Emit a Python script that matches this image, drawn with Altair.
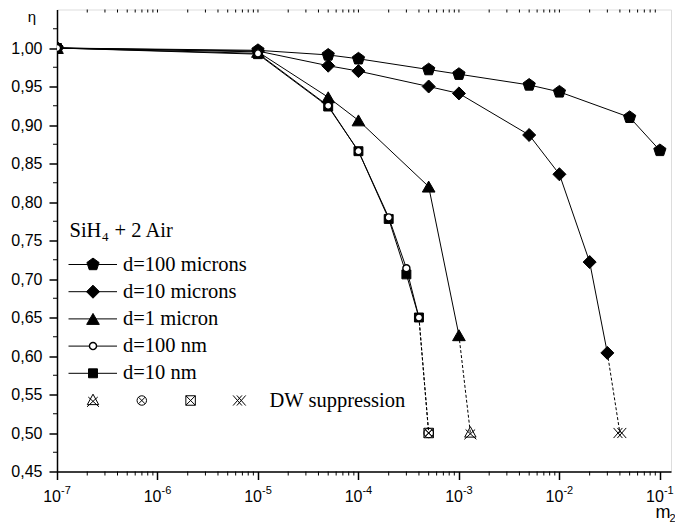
import altair as alt
import pandas as pd

# ---------------- data ----------------
series_labels = ["d=100 microns", "d=10 microns", "d=1 micron", "d=100 nm", "d=10 nm"]

x_100um = [1e-7, 1e-5, 5e-5, 1e-4, 5e-4, 1e-3, 5e-3, 1e-2, 5e-2, 1e-1]
eta_100um = [1.000, 0.997, 0.991, 0.986, 0.972, 0.966, 0.952, 0.943, 0.910, 0.867]

x_10um = [1e-7, 1e-5, 5e-5, 1e-4, 5e-4, 1e-3, 5e-3, 1e-2, 2e-2, 3e-2]
eta_10um = [1.000, 0.996, 0.977, 0.970, 0.950, 0.941, 0.887, 0.836, 0.722, 0.604]

x_1um = [1e-7, 1e-5, 5e-5, 1e-4, 5e-4, 1e-3]
eta_1um = [1.000, 0.995, 0.936, 0.906, 0.820, 0.627]

x_100nm = [1e-7, 1e-5, 5e-5, 1e-4, 2e-4, 3e-4, 4e-4]
eta_100nm = [1.000, 0.993, 0.925, 0.866, 0.780, 0.714, 0.650]

x_10nm = [1e-7, 1e-5, 5e-5, 1e-4, 2e-4, 3e-4, 4e-4]
eta_10nm = [1.000, 0.992, 0.924, 0.866, 0.778, 0.706, 0.650]

# DW suppression points (series order: 10 microns, 1 micron, 100 nm, 10 nm)
dw_series = ["d=10 microns", "d=1 micron", "d=100 nm", "d=10 nm"]
dw_x = [4e-2, 1.3e-3, 5e-4, 5e-4]
dw_eta = [0.50, 0.50, 0.50, 0.50]

x_major = [1e-7, 1e-6, 1e-5, 1e-4, 1e-3, 1e-2, 1e-1]
x_tick_base = ["10", "10", "10", "10", "10", "10", "10"]
x_tick_exp = ["-7", "-6", "-5", "-4", "-3", "-2", "-1"]
y_major = [0.45, 0.50, 0.55, 0.60, 0.65, 0.70, 0.75, 0.80, 0.85, 0.90, 0.95, 1.00]
y_minor = [0.475, 0.525, 0.575, 0.625, 0.675, 0.725, 0.775, 0.825, 0.875, 0.925, 0.975, 1.025]
x_minor = [m * 10.0 ** k for k in range(-7, -1) for m in range(2, 10)]

legend_title = ["SiH", "4", "+ 2 Air"]
dw_legend_label = "DW suppression"

# ---------------- styling ----------------
SANS = "Liberation Sans"
SERIF = "Liberation Serif"
W, H = 614, 462

PENT = "M0,-1L0.951,-0.309L0.588,0.809L-0.588,0.809L-0.951,-0.309Z"
DW_TRI = "M0,-1L0.9,0.65L-0.9,0.65Z M-0.75,-0.55L0.95,1 M0.75,-0.55L-0.95,1"
DW_CIRC = ("M0.75,0A0.75,0.75 0 1,1 -0.75,0A0.75,0.75 0 1,1 0.75,0Z "
           "M-0.53,-0.53L0.53,0.53 M0.53,-0.53L-0.53,0.53")
DW_SQ = "M-0.75,-0.75L0.75,-0.75L0.75,0.75L-0.75,0.75Z M-0.75,-0.75L0.75,0.75 M0.75,-0.75L-0.75,0.75"
DW_HATCH = "M-1,-0.8L0.4,0.8 M-1,0.8L0.4,-0.8 M-0.4,-0.8L1,0.8 M-0.4,0.8L1,-0.8"

series_x = [x_100um, x_10um, x_1um, x_100nm, x_10nm]
series_eta = [eta_100um, eta_10um, eta_1um, eta_100nm, eta_10nm]
series_shape = [PENT, "diamond", "triangle-up", "circle", "square"]
series_size = [165, 170, 160, 50, 80]
series_fill = ["black", "black", "black", "white", "black"]
series_sw = [1, 1, 1, 1.4, 1]
dw_shape = {"d=10 microns": DW_HATCH, "d=1 micron": DW_TRI, "d=100 nm": DW_CIRC, "d=10 nm": DW_SQ}

xscale = alt.Scale(type="log", domain=[1e-7, 0.129], nice=False)
yscale = alt.Scale(domain=[0.45, 1.05], nice=False, zero=False)

x_axis = alt.Axis(values=x_major, labels=False, tickSize=8, tickWidth=1.5, tickColor="black",
                  domainColor="black", domainWidth=1.5, grid=False, title=None)
y_axis = alt.Axis(values=y_major, labelExpr="replace(format(datum.value, '.2f'), '.', ',')",
                  labelFont=SANS, labelFontSize=16, labelColor="black", labelPadding=7,
                  tickSize=8, tickWidth=1.5, tickColor="black", domainColor="black",
                  domainWidth=1.5, grid=False, title=None)

one = pd.DataFrame({"a": [0]})
layers = []


def X():
    return alt.X("x:Q", scale=xscale, axis=x_axis)


def Y():
    return alt.Y("eta:Q", scale=yscale, axis=y_axis)


def line_layer(xs, ys, dash=None):
    df = pd.DataFrame({"x": xs, "eta": ys, "i": list(range(len(xs)))})
    kw = {"strokeDash": dash} if dash else {}
    return alt.Chart(df).mark_line(color="black", strokeWidth=1, **kw).encode(
        x=X(), y=Y(), order="i:Q")


def point_layer(xs, ys, shape, size, fill, sw, filled=True):
    df = pd.DataFrame({"x": xs, "eta": ys})
    if filled:
        mk = alt.Chart(df).mark_point(shape=shape, size=size, fill=fill, stroke="black",
                                      strokeWidth=sw, fillOpacity=1, opacity=1, clip=True)
    else:
        mk = alt.Chart(df).mark_point(shape=shape, size=size, filled=False, color="black",
                                      strokeWidth=1, opacity=1)
    return mk.encode(x=X(), y=Y())


# solid lines
for i in range(5):
    layers.append(line_layer(series_x[i], series_eta[i]))
# dashed connectors to DW suppression points
for s, dx_, de in zip(dw_series, dw_x, dw_eta):
    k = series_labels.index(s)
    layers.append(line_layer([series_x[k][-1], dx_], [series_eta[k][-1], de], dash=[3, 2]))

# minor ticks (bottom, left) and small inner ticks on top
layers.append(alt.Chart(pd.DataFrame({"x": x_minor})).mark_rule(color="black", strokeWidth=1).encode(
    x=X(), y=alt.value(H), y2=alt.value(H + 4)))
layers.append(alt.Chart(pd.DataFrame({"x": x_minor + x_major[1:-1]})).mark_rule(color="black", strokeWidth=1).encode(
    x=X(), y=alt.value(0), y2=alt.value(3)))
layers.append(alt.Chart(pd.DataFrame({"eta": y_minor})).mark_rule(color="black", strokeWidth=1).encode(
    y=Y(), x=alt.value(0), x2=alt.value(-4)))

# x tick labels with superscript exponents
tick_df = pd.DataFrame({"x": x_major, "base": x_tick_base, "exp": x_tick_exp})
layers.append(alt.Chart(tick_df).mark_text(align="right", baseline="alphabetic", dx=4, font=SANS,
                                           fontSize=16, color="black").encode(
    x=X(), y=alt.value(H + 30), text="base:N"))
layers.append(alt.Chart(tick_df).mark_text(align="left", baseline="alphabetic", dx=4, font=SANS,
                                           fontSize=11, color="black").encode(
    x=X(), y=alt.value(H + 22.5), text="exp:N"))

# points (squares before circles so the open circles sit on top)
for i in [0, 1, 2, 4, 3]:
    layers.append(point_layer(series_x[i], series_eta[i], series_shape[i], series_size[i],
                              series_fill[i], series_sw[i]))
for s, dx_, de in zip(dw_series, dw_x, dw_eta):
    layers.append(point_layer([dx_], [de], dw_shape[s], 160, None, 1, filled=False))


# ---------------- manual legend ----------------
def lg_text(x, y, text, size, font=SERIF, align="left", baseline="middle"):
    return alt.Chart(one).mark_text(text=text, font=font, fontSize=size, align=align,
                                    baseline=baseline, color="black").encode(
        x=alt.value(x), y=alt.value(y))


def lg_point(x, y, shape, size, fill, sw, filled=True):
    if filled:
        mk = alt.Chart(one).mark_point(shape=shape, size=size, fill=fill, stroke="black",
                                       strokeWidth=sw, fillOpacity=1, opacity=1)
    else:
        mk = alt.Chart(one).mark_point(shape=shape, size=size, filled=False, color="black",
                                       strokeWidth=1, opacity=1)
    return mk.encode(x=alt.value(x), y=alt.value(y))


LX = 12.5
title_y = 221
layers.append(lg_text(LX, title_y, legend_title[0], 20.5))
layers.append(lg_text(LX + 32.5, title_y + 6, legend_title[1], 13))
layers.append(lg_text(LX + 45, title_y, legend_title[2], 20.5))

row0, step = 255, 27.2
for i in range(5):
    yy = row0 + i * step
    layers.append(alt.Chart(one).mark_rule(color="black", strokeWidth=1).encode(
        x=alt.value(LX - 1), x2=alt.value(LX + 47.5), y=alt.value(yy)))
    layers.append(lg_point(LX + 23.5, yy, series_shape[i], series_size[i], series_fill[i], series_sw[i]))
    layers.append(lg_text(LX + 53.5, yy, series_labels[i], 20.5))

dw_y = row0 + 5 * step
dw_leg_order = ["d=1 micron", "d=100 nm", "d=10 nm", "d=10 microns"]
for j, s in enumerate(dw_leg_order):
    layers.append(lg_point(LX + 23.5 + j * 48.8, dw_y, dw_shape[s], 160, None, 1, filled=False))
layers.append(lg_text(LX + 200, dw_y, dw_legend_label, 20.5))

# axis titles
layers.append(lg_text(-25, 7, "η", 15, font=SANS, align="center", baseline="middle"))
layers.append(lg_text(606, 508.5, "m", 18, font=SANS, align="center", baseline="alphabetic"))
layers.append(lg_text(612.5, 512.5, "2", 11, font=SANS, align="left", baseline="alphabetic"))

chart = alt.layer(*layers).properties(
    width=W, height=H,
    padding={"left": 49, "top": 1.5, "right": 4, "bottom": 51},
    autosize=alt.AutoSizeParams(type="none"),
).configure_view(stroke="black", strokeWidth=1.5).configure(background="white")

chart.save("out.html", embed_options={"renderer": "svg", "actions": False})
